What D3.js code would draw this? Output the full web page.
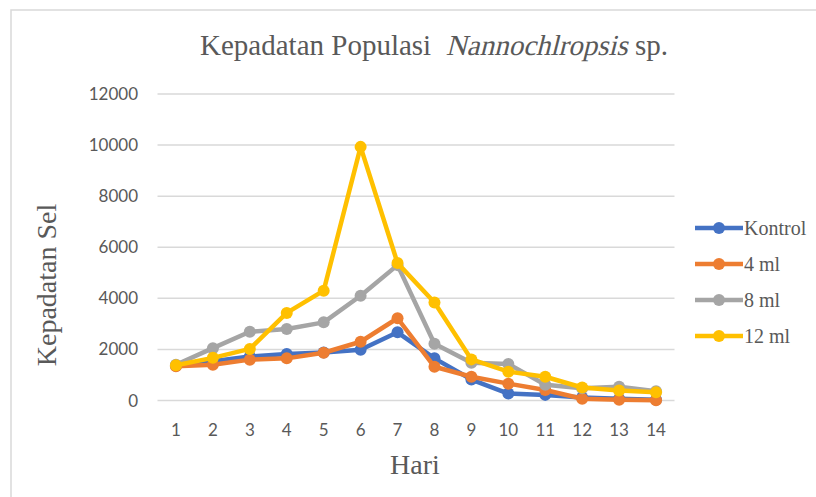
<!DOCTYPE html>
<html>
<head>
<meta charset="utf-8">
<script src="https://cdn.jsdelivr.net/npm/d3@7"></script>
<style>
  body { margin: 0; background: #fff; }
  svg { display: block; }
</style>
</head>
<body>
<script>
// days on x axis
var days = [1,2,3,4,5,6,7,8,9,10,11,12,13,14];
var seriesNames = ["Kontrol", "4 ml", "8 ml", "12 ml"];
var kontrol = [1360, 1540, 1720, 1820, 1880, 1990, 2670, 1650, 820, 270, 220, 120, 70, 30];
var ml4 = [1340, 1400, 1600, 1650, 1870, 2300, 3220, 1320, 930, 660, 410, 70, 30, 10];
var ml8 = [1400, 2050, 2690, 2800, 3060, 4100, 5300, 2220, 1480, 1430, 620, 480, 540, 360];
var ml12 = [1380, 1670, 2020, 3430, 4300, 9930, 5380, 3840, 1610, 1130, 930, 510, 390, 320];
var yTicks = [0, 2000, 4000, 6000, 8000, 10000, 12000];
var colors = ["#4472C4", "#ED7D31", "#A5A5A5", "#FFC000"];

var width = 816, height = 497;
var allSeries = [kontrol, ml4, ml8, ml12];
var serif = "'Liberation Serif', 'Times New Roman', serif";

var svg = d3.select("body").append("svg")
    .attr("width", width)
    .attr("height", height);

// outer frame
svg.append("rect")
    .attr("x", 11).attr("y", 10)
    .attr("width", 830).attr("height", 520)
    .attr("fill", "white")
    .attr("stroke", "#D9D9D9")
    .attr("stroke-width", 1.5);

var x = d3.scalePoint()
    .domain(days)
    .range([157.5, 674.5])
    .padding(0.5);

var y = d3.scaleLinear()
    .domain([0, 12000])
    .range([400.5, 94]);

// gridlines
svg.append("g")
    .selectAll("line")
    .data(yTicks)
    .enter().append("line")
    .attr("x1", 157.5)
    .attr("x2", 674.5)
    .attr("y1", d => y(d))
    .attr("y2", d => y(d))
    .attr("stroke", "#D9D9D9")
    .attr("stroke-width", 1.5);

// y tick labels
svg.append("g")
    .selectAll("text")
    .data(yTicks)
    .enter().append("text")
    .attr("x", 138)
    .attr("y", d => y(d) + 6)
    .attr("text-anchor", "end")
    .attr("font-family", "Lato, 'Open Sans', sans-serif")
    .attr("font-size", "17px")
    .attr("fill", "#595959")
    .text(d => d);

// x tick labels
svg.append("g")
    .selectAll("text")
    .data(days)
    .enter().append("text")
    .attr("x", d => x(d))
    .attr("y", 436)
    .attr("text-anchor", "middle")
    .attr("font-family", "Lato, 'Open Sans', sans-serif")
    .attr("font-size", "17px")
    .attr("fill", "#595959")
    .text(d => d);

var line = d3.line()
    .x((d, i) => x(days[i]))
    .y(d => y(d));

// lines + markers
for (var s = 0; s < allSeries.length; s++) {
    var g = svg.append("g");
    g.append("path")
        .datum(allSeries[s])
        .attr("d", line)
        .attr("fill", "none")
        .attr("stroke", colors[s])
        .attr("stroke-width", 4.5)
        .attr("stroke-linejoin", "round");
    g.selectAll("circle")
        .data(allSeries[s])
        .enter().append("circle")
        .attr("cx", (d, i) => x(days[i]))
        .attr("cy", d => y(d))
        .attr("r", 6)
        .attr("fill", colors[s]);
}

// title: serif italic face is missing, so slant the species name by hand
var titleParts = ["Kepadatan Populasi  ", "Nannochlropsis", " sp."];
var titleG = svg.append("g");
var pieces = titleParts.map(function(t) {
    return titleG.append("text")
        .attr("font-family", serif)
        .attr("font-size", "29px")
        .attr("fill", "#595959")
        .attr("xml:space", "preserve")
        .text(t);
});
var widths = pieces.map(p => p.node().getComputedTextLength());
var tx = 434 - d3.sum(widths) / 2, ty = 55;
pieces.forEach(function(p, i) {
    if (i == 1) {
        p.attr("transform", "translate(" + tx + "," + ty + ") skewX(-14)");
    } else {
        p.attr("transform", "translate(" + tx + "," + ty + ")");
    }
    tx += widths[i];
});

// axis titles
svg.append("text")
    .attr("transform", "translate(56,285) rotate(-90)")
    .attr("text-anchor", "middle")
    .attr("font-family", serif)
    .attr("font-size", "28px")
    .attr("fill", "#595959")
    .text("Kepadatan Sel");

svg.append("text")
    .attr("x", 415)
    .attr("y", 474)
    .attr("text-anchor", "middle")
    .attr("font-family", serif)
    .attr("font-size", "28px")
    .attr("fill", "#595959")
    .text("Hari");

// legend
var legend = svg.append("g")
    .selectAll("g")
    .data(seriesNames)
    .enter().append("g")
    .attr("transform", (d, i) => "translate(695," + (228 + i * 36) + ")");
legend.append("line")
    .attr("x1", 0).attr("x2", 48)
    .attr("y1", 0).attr("y2", 0)
    .attr("stroke", (d, i) => colors[i])
    .attr("stroke-width", 4.5);
legend.append("circle")
    .attr("cx", 24).attr("cy", 0).attr("r", 6)
    .attr("fill", (d, i) => colors[i]);
legend.append("text")
    .attr("x", 49)
    .attr("y", 7)
    .attr("font-family", serif)
    .attr("font-size", "20px")
    .attr("fill", "#595959")
    .text(d => d);
</script>
</body>
</html>
